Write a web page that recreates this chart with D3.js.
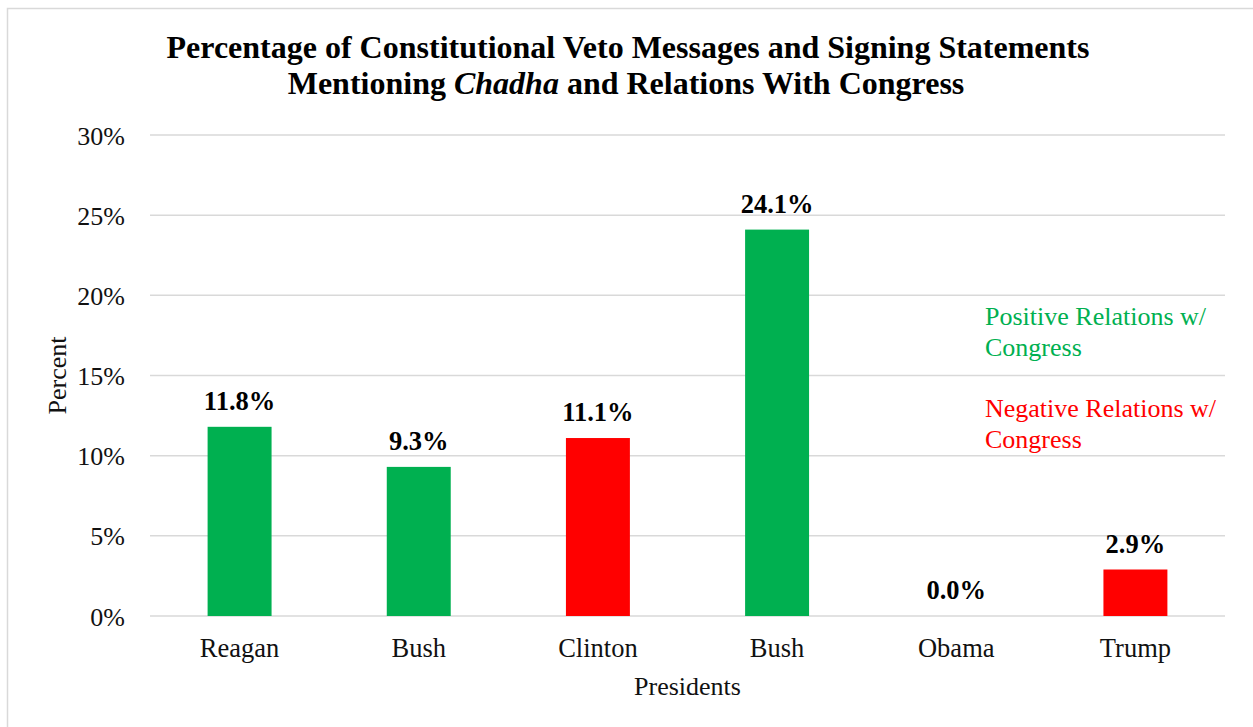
<!DOCTYPE html>
<html>
<head>
<meta charset="utf-8">
<script src="https://cdn.jsdelivr.net/npm/d3@7"></script>
<style>
  html, body { margin: 0; padding: 0; background: #fff; }
  svg { display: block; font-family: "Liberation Serif", "Times New Roman", serif; }
</style>
</head>
<body>
<svg id="chart" width="1253" height="727"></svg>
<script>
// Presidents, share of constitutional veto messages / signing statements citing Chadha
const presidents = ["Reagan", "Bush", "Clinton", "Bush", "Obama", "Trump"];
const percentValues = [11.8, 9.3, 11.1, 24.1, 0.0, 2.9];
const relations = ["positive", "positive", "negative", "positive", "negative", "negative"];
const yTicks = [0, 5, 10, 15, 20, 25, 30];
const legendItems = [
  { key: "positive", lines: ["Positive Relations w/", "Congress"] },
  { key: "negative", lines: ["Negative Relations w/", "Congress"] }
];

const colors = { positive: "#00B050", negative: "#FF0000" };

const svg = d3.select("#chart");
const W = 1253, H = 727;
const margin = { left: 150, right: 28, top: 135, bottom: 111 };
const plotW = W - margin.left - margin.right;
const plotH = H - margin.top - margin.bottom;

// Outer frame
svg.append("rect")
  .attr("x", 7.5).attr("y", 8.5)
  .attr("width", W).attr("height", H)
  .attr("fill", "#fff").attr("stroke", "#d9d9d9").attr("stroke-width", 1.5);

const g = svg.append("g").attr("transform", `translate(${margin.left},${margin.top})`);

const x = d3.scaleBand()
  .domain(d3.range(presidents.length))
  .range([0, plotW])
  .paddingInner(0.643)
  .paddingOuter(0.3215);

const y = d3.scaleLinear().domain([0, 30]).range([plotH, 0]);

// Gridlines
g.append("g")
  .selectAll("line")
  .data(yTicks)
  .join("line")
  .attr("x1", 0).attr("x2", plotW)
  .attr("y1", d => y(d)).attr("y2", d => y(d))
  .attr("stroke", "#d9d9d9").attr("stroke-width", 1.5);

// Y axis labels
const yAxis = d3.axisLeft(y).tickValues(yTicks).tickFormat(d => d + "%").tickSize(0).tickPadding(25);
const yG = g.append("g").call(yAxis);
yG.select(".domain").remove();
yG.selectAll("text")
  .attr("font-family", "Liberation Serif, Times New Roman, serif")
  .attr("font-size", 26).attr("fill", "#111").attr("dy", "0.35em");

// X axis labels
const xAxis = d3.axisBottom(x).tickFormat(i => presidents[i]).tickSize(0).tickPadding(22);
const xG = g.append("g").attr("transform", `translate(0,${plotH})`).call(xAxis);
xG.select(".domain").remove();
xG.selectAll("text")
  .attr("font-family", "Liberation Serif, Times New Roman, serif")
  .attr("font-size", 26.5).attr("fill", "#111");

// Bars
g.append("g")
  .selectAll("rect")
  .data(percentValues)
  .join("rect")
  .attr("x", (d, i) => x(i))
  .attr("width", x.bandwidth())
  .attr("y", d => y(d))
  .attr("height", d => plotH - y(d))
  .attr("fill", (d, i) => colors[relations[i]]);

// Value labels
g.append("g")
  .selectAll("text")
  .data(percentValues)
  .join("text")
  .attr("x", (d, i) => x(i) + x.bandwidth() / 2)
  .attr("y", d => y(d) - 17)
  .attr("text-anchor", "middle")
  .attr("font-size", 26.5).attr("font-weight", "bold").attr("fill", "#000")
  .text(d => d.toFixed(1) + "%");

// Title
const title = svg.append("text")
  .attr("text-anchor", "middle")
  .attr("font-size", 32).attr("font-weight", "bold").attr("fill", "#000");
title.append("tspan").attr("x", 628).attr("y", 58)
  .text("Percentage of Constitutional Veto Messages and Signing Statements");
const t2 = title.append("tspan").attr("x", 626).attr("y", 94);
t2.append("tspan").text("Mentioning ");
t2.append("tspan").attr("font-style", "italic").text("Chadha");
t2.append("tspan").text(" and Relations With Congress");

// Axis titles
svg.append("text")
  .attr("transform", `translate(66,${margin.top + plotH / 2}) rotate(-90)`)
  .attr("text-anchor", "middle")
  .attr("font-size", 26).attr("fill", "#111")
  .text("Percent");

svg.append("text")
  .attr("x", margin.left + plotW / 2).attr("y", 695)
  .attr("text-anchor", "middle")
  .attr("font-size", 26).attr("fill", "#111")
  .text("Presidents");

// Legend text
const legend = svg.append("g");
legendItems.forEach((item, k) => {
  const t = legend.append("text")
    .attr("font-size", 26).attr("fill", colors[item.key]);
  item.lines.forEach((line, j) => {
    t.append("tspan").attr("x", 985).attr("y", 325 + k * 92 + j * 31).text(line);
  });
});
</script>
</body>
</html>
